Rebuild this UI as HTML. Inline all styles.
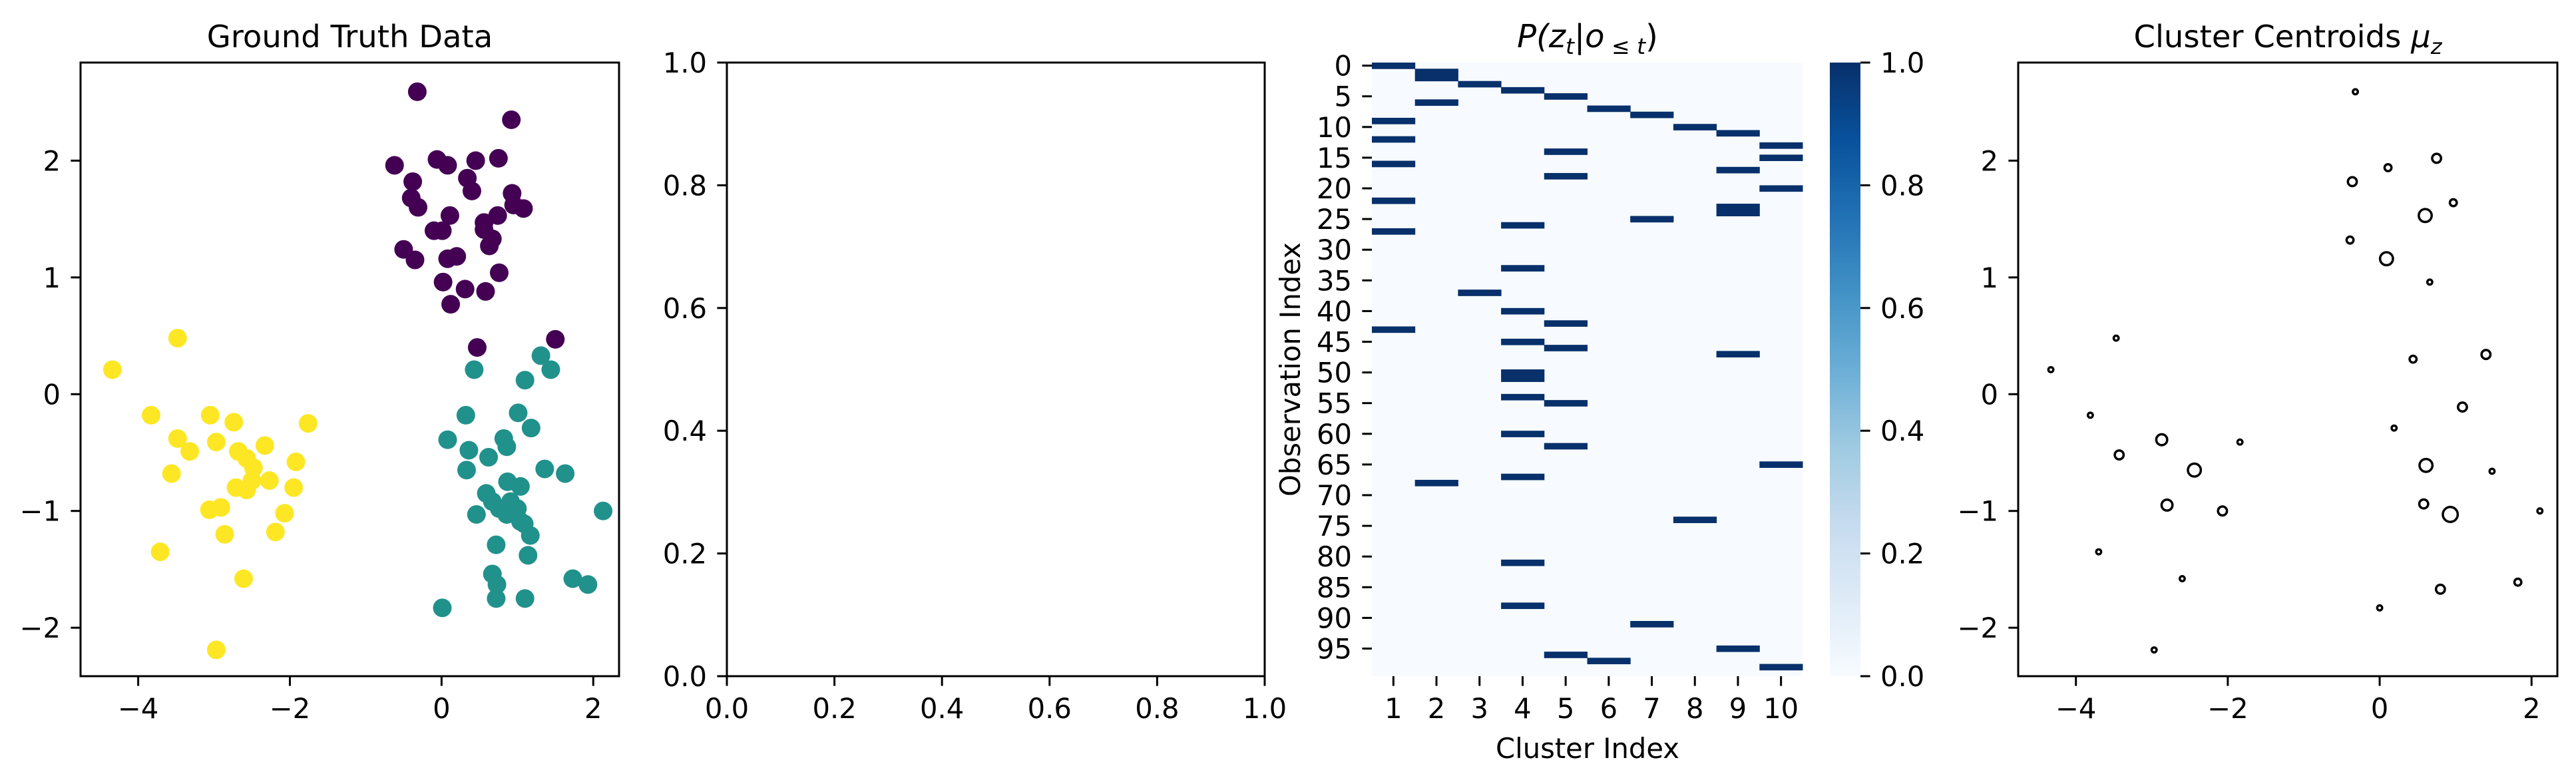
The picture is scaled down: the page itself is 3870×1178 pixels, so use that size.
<!DOCTYPE html>
<html><head><meta charset="utf-8"><style>
html,body{margin:0;padding:0;background:#fff;}
svg{display:block;font-family:"DejaVu Sans","Liberation Sans",sans-serif;}
</style></head><body>
<svg id="fig" xmlns="http://www.w3.org/2000/svg" width="3870" height="1178" viewBox="0 0 3870 1178">
<defs>
<linearGradient id="blues" x1="0" y1="1" x2="0" y2="0">
<stop offset="0" stop-color="#f7fbff"/><stop offset="0.125" stop-color="#deebf7"/><stop offset="0.25" stop-color="#c6dbef"/><stop offset="0.375" stop-color="#9ecae1"/><stop offset="0.5" stop-color="#6baed6"/><stop offset="0.625" stop-color="#4292c6"/><stop offset="0.75" stop-color="#2171b5"/><stop offset="0.875" stop-color="#08519c"/><stop offset="1" stop-color="#08306b"/>
</linearGradient>
</defs>
</svg>
<script>
// ---- Panel 1 data: ground truth ----
const purpleX=[-0.32,0.92,-0.62,-0.06,0.08,0.45,0.75,-0.38,0.34,0.40,-0.40,-0.31,0.93,0.95,1.08,0.11,0.74,0.56,0.56,0.67,0.63,-0.10,0.01,-0.50,-0.35,0.08,0.20,0.76,0.02,0.31,0.58,0.12,0.47,1.50];
const purpleY=[2.59,2.35,1.96,2.01,1.96,2.00,2.02,1.82,1.85,1.74,1.68,1.60,1.72,1.62,1.59,1.53,1.53,1.47,1.41,1.33,1.27,1.40,1.40,1.24,1.15,1.16,1.18,1.04,0.96,0.90,0.88,0.77,0.40,0.47];
const tealX=[1.31,1.44,0.43,1.10,0.32,1.01,1.18,0.08,0.36,0.82,0.86,0.62,0.33,1.36,1.63,0.87,1.04,0.59,0.67,0.76,0.86,0.91,1.00,1.04,1.09,1.17,0.46,2.13,0.72,1.14,0.67,0.73,0.72,1.10,1.73,1.93,0.01];
const tealY=[0.33,0.21,0.21,0.12,-0.18,-0.16,-0.29,-0.39,-0.48,-0.38,-0.45,-0.54,-0.65,-0.64,-0.68,-0.75,-0.79,-0.85,-0.92,-0.98,-1.03,-0.92,-0.98,-1.09,-1.11,-1.21,-1.03,-1.00,-1.29,-1.38,-1.54,-1.63,-1.75,-1.75,-1.58,-1.63,-1.83];
const yellowX=[-3.48,-4.34,-3.83,-3.05,-2.74,-1.76,-3.48,-2.97,-3.32,-2.68,-2.33,-2.57,-1.92,-2.48,-3.56,-2.50,-2.27,-2.71,-2.57,-1.95,-2.91,-3.06,-2.07,-2.86,-2.19,-3.71,-2.61,-2.97];
const yellowY=[0.48,0.21,-0.18,-0.18,-0.24,-0.25,-0.38,-0.41,-0.49,-0.49,-0.44,-0.55,-0.58,-0.63,-0.68,-0.74,-0.74,-0.80,-0.82,-0.80,-0.97,-0.99,-1.02,-1.20,-1.18,-1.35,-1.58,-2.19];
const scatterXTicks=[-4,-2,0,2];
const scatterYTicks=[-2,-1,0,1,2];
// ---- Panel 2 ticks ----
const emptyTicks=[0,0.2,0.4,0.6,0.8,1.0];
// ---- Panel 3 heatmap: [row, cluster] cells with probability 1 ----
const heatRows=[0,9,12,16,22,27,43, 1,2,6,68, 3,37, 4,26,33,40,45,50,51,54,60,67,81,88, 5,14,18,42,46,55,62,96, 7,97, 8,25,91, 10,74, 11,17,23,24,47,95, 13,15,20,65,98];
const heatCols=[1,1,1,1,1,1,1, 2,2,2,2, 3,3, 4,4,4,4,4,4,4,4,4,4,4,4, 5,5,5,5,5,5,5,5, 6,6, 7,7,7, 8,8, 9,9,9,9,9,9, 10,10,10,10,10];
const heatVals=heatRows.map(()=>1.0);
const heatNRows=100, heatNCols=10;
const colorbarTicks=[0,0.2,0.4,0.6,0.8,1.0];
// ---- Panel 4 centroids ----
const centX=[-0.32,0.75,0.11,-0.36,0.97,0.60,-0.39,0.09,0.66,-3.47,-4.33,0.44,1.40,1.09,-3.81,0.19,-2.87,-1.84,-3.43,-2.44,0.61,1.48,-2.80,-2.07,0.58,0.93,2.11,-3.70,-2.60,1.82,0.80,0.00,-2.97];
const centY=[2.59,2.02,1.94,1.82,1.64,1.53,1.32,1.16,0.96,0.48,0.21,0.30,0.34,-0.11,-0.18,-0.29,-0.39,-0.41,-0.52,-0.65,-0.61,-0.66,-0.95,-1.00,-0.94,-1.03,-1.00,-1.35,-1.58,-1.61,-1.67,-1.83,-2.19];
const centW=[1,3,2,3,2,5,2,5,1,1,1,2,3,3,1,1,4,1,3,5,5,1,4,3,3,6,1,1,1,2,3,1,1];

const NS="http://www.w3.org/2000/svg";
const svg=document.getElementById('fig');
function mk(tag,attrs,parent){const e=document.createElementNS(NS,tag);for(const k in attrs)e.setAttribute(k,attrs[k]);(parent||svg).appendChild(e);return e;}
const FS=41.7;
function txt(s,x,y,anchor,parent,size){const t=mk('text',{x:x,y:y,'text-anchor':anchor||'middle','font-size':size||FS,fill:'#000'},parent);t.textContent=s;return t;}
function fmtNum(v){return (v<0?'\u2212':'')+Math.abs(v);}

const XL=-4.76,XR=2.34,YT=2.84,YB=-2.415;
const TOP=94,BOT=1016;
function scatterAxes(left,right,name){
  const sx=v=>left+(v-XL)/(XR-XL)*(right-left);
  const sy=v=>TOP+(YT-v)/(YT-YB)*(BOT-TOP);
  const g=mk('g',{});
  
  
  return {g,sx,sy,left,right};
}
function drawFrame(A,xticks,yticks,xfmt,yfmt){
  const g=A.g;
  const fr=mk('rect',{x:A.left,y:TOP,width:A.right-A.left,height:BOT-TOP,fill:'none',stroke:'#000','stroke-width':3},g);
  
  
  xticks.forEach(v=>{const x=A.sx(v);
    const l=mk('line',{x1:x,x2:x,y1:BOT,y2:BOT+14.6,stroke:'#000','stroke-width':3},g);
    
    
    const t=txt(xfmt(v),x,1079,'middle',g);
    
    });
  yticks.forEach(v=>{const y=A.sy(v);
    const l=mk('line',{x1:A.left-14.6,x2:A.left,y1:y,y2:y,stroke:'#000','stroke-width':3},g);
    
    
    const t=txt(yfmt(v),A.left-30,y+15,'end',g);
    
    });
}

// Panel 1
const A1=scatterAxes(121,930,'ground-truth-panel');
const t1=txt('Ground Truth Data',525.5,71,'middle',A1.g,46.5);


[[purpleX,purpleY,'#440154','purple'],[tealX,tealY,'#21918c','teal'],[yellowX,yellowY,'#fde725','yellow']].forEach(([xs,ys,c,n])=>{
  xs.forEach((x,i)=>{const p=mk('circle',{cx:A1.sx(x),cy:A1.sy(ys[i]),r:14,fill:c},A1.g);
    
    });
});
drawFrame(A1,scatterXTicks,scatterYTicks,fmtNum,fmtNum);

// Panel 2
const A2={g:mk('g',{}),left:1092,right:1900,sx:v=>1092+v*808,sy:v=>BOT-v*(BOT-TOP)};


drawFrame(A2,emptyTicks,emptyTicks,v=>v.toFixed(1),v=>v.toFixed(1));

// Panel 3 heatmap
const HL=2061,HR=2708;
const g3=mk('g',{});


const rowH=(BOT-TOP)/heatNRows, colW=(HR-HL)/heatNCols;
const hy=r=>TOP+r*rowH, hx=c=>HL+(c-1)*colW;
const bg=mk('rect',{x:HL,y:TOP,width:HR-HL,height:BOT-TOP,fill:'#f7fbff'},g3);


function blue(v){return v>=0.99?'#08306b':'#6baed6';}
heatRows.forEach((r,i)=>{const c=mk('rect',{x:hx(heatCols[i]),y:hy(r),width:colW+0.5,height:rowH+0.5,fill:blue(heatVals[i])},g3);
  
  });
for(let r=0;r<heatNRows;r+=5){const y=hy(r+0.5);
  const l=mk('line',{x1:HL-14.6,x2:HL,y1:y,y2:y,stroke:'#000','stroke-width':3},g3);
  
  
  const t=txt(String(r),HL-30,y+15,'end',g3);
  
  }
for(let c=1;c<=heatNCols;c++){const x=hx(c)+colW/2;
  const l=mk('line',{x1:x,x2:x,y1:BOT,y2:BOT+14.6,stroke:'#000','stroke-width':3},g3);
  
  
  const t=txt(String(c),x,1079,'middle',g3);
  
  }
const xl=txt('Cluster Index',2385,1139,'middle',g3);


const yl=txt('Observation Index',0,0,'middle',g3);
yl.setAttribute('transform','translate(1953,555) rotate(-90)');


const ht=mk('text',{x:2385,y:71,'text-anchor':'middle','font-size':48,'font-style':'italic',fill:'#000'},g3);
ht.innerHTML='P(z<tspan font-size="33" dy="10">t</tspan><tspan dy="-10">|o</tspan><tspan font-size="33" dy="10"> ≤ t</tspan><tspan dy="-10" font-style="normal">)</tspan>';


// colorbar
const CL=2749,CR=2795;
const cb=mk('rect',{x:CL,y:TOP,width:CR-CL,height:BOT-TOP,fill:'url(#blues)'},g3);


colorbarTicks.forEach(v=>{const y=BOT-v*(BOT-TOP);
  const l=mk('line',{x1:CR,x2:CR+14.6,y1:y,y2:y,stroke:'#000','stroke-width':3},g3);
  
  
  const t=txt(v.toFixed(1),CR+30,y+15,'start',g3);
  
  });

// Panel 4
const A4=scatterAxes(3032,3842,'centroids-panel');
const t4=mk('text',{x:3437,y:71,'text-anchor':'middle','font-size':46.5,fill:'#000'},A4.g);
t4.innerHTML='Cluster Centroids <tspan font-style="italic">μ</tspan><tspan font-style="italic" font-size="32" dy="10">z</tspan>';


centX.forEach((x,i)=>{const c=mk('circle',{cx:A4.sx(x),cy:A4.sy(centY[i]),r:2.2+1.5*centW[i],fill:'none',stroke:'#000','stroke-width':3.5},A4.g);
  
  });
drawFrame(A4,scatterXTicks,scatterYTicks,fmtNum,fmtNum);
</script>
</body></html>
